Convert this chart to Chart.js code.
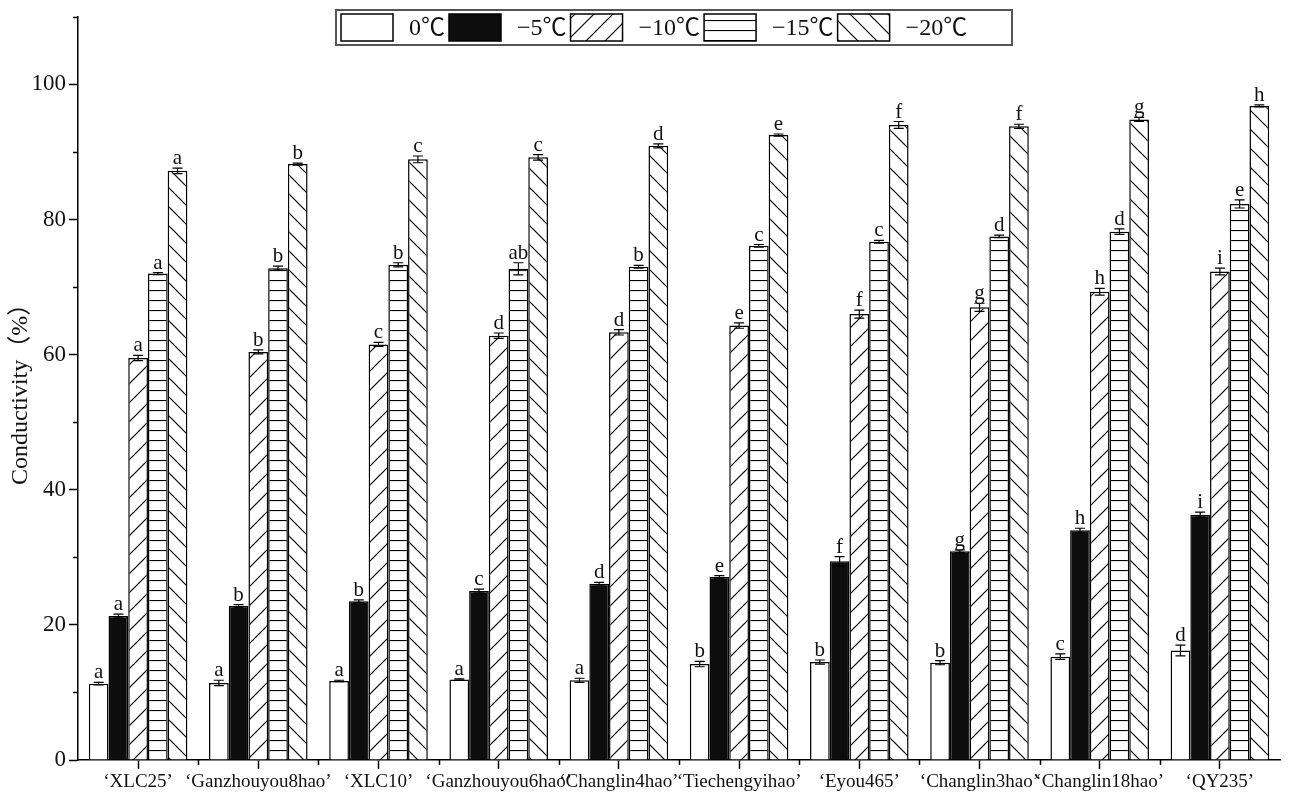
<!DOCTYPE html>
<html>
<head>
<meta charset="utf-8">
<script src="https://cdn.jsdelivr.net/npm/chart.js@4/dist/chart.umd.min.js"></script>
<style>
  body { margin: 0; background: #fff; }
  #wrap { width: 1290px; height: 798px; }
</style>
</head>
<body>
<div id="wrap"><canvas id="chart" width="1290" height="798"></canvas></div>
<script>
// cultivars on the x axis
const cultivars = ['\u2018XLC25\u2019', '\u2018Ganzhouyou8hao\u2019', '\u2018XLC10\u2019', '\u2018Ganzhouyou6hao\u2019',
  '\u2018Changlin4hao\u2019', '\u2018Tiechengyihao\u2019', '\u2018Eyou465\u2019', '\u2018Changlin3hao\u2019',
  '\u2018Changlin18hao\u2019', '\u2018QY235\u2019'];
const temps = ['0\u2103', '\u22125\u2103', '\u221210\u2103', '\u221215\u2103', '\u221220\u2103'];

// conductivity (%) per temperature
const t0   = [11.3, 11.4, 11.7, 11.9, 11.8, 14.2, 14.5, 14.4, 15.3, 16.2];
const t5   = [21.3, 22.8, 23.5, 25.0, 26.1, 27.1, 29.4, 30.9, 34.0, 36.3];
const t10  = [59.5, 60.4, 61.5, 62.8, 63.3, 64.3, 66.0, 67.0, 69.3, 72.3];
const t15  = [72.0, 72.8, 73.3, 72.7, 73.0, 76.1, 76.7, 77.5, 78.2, 82.3];
const t20  = [87.2, 88.2, 88.9, 89.2, 90.9, 92.5, 94.0, 93.8, 94.8, 96.8];

// error (half length)
const e0   = [0.2, 0.4, 0.1, 0.1, 0.3, 0.4, 0.3, 0.3, 0.4, 0.8];
const e5   = [0.3, 0.2, 0.2, 0.3, 0.2, 0.2, 0.7, 0.2, 0.3, 0.4];
const e10  = [0.4, 0.3, 0.3, 0.4, 0.4, 0.4, 0.6, 0.6, 0.5, 0.5];
const e15  = [0.15, 0.3, 0.3, 0.9, 0.2, 0.2, 0.2, 0.2, 0.4, 0.6];
const e20  = [0.4, 0.15, 0.5, 0.4, 0.3, 0.15, 0.5, 0.3, 0.3, 0.15];

// significance letters
const l0   = ['a', 'a', 'a', 'a', 'a', 'b', 'b', 'b', 'c', 'd'];
const l5   = ['a', 'b', 'b', 'c', 'd', 'e', 'f', 'g', 'h', 'i'];
const l10  = ['a', 'b', 'c', 'd', 'd', 'e', 'f', 'g', 'h', 'i'];
const l15  = ['a', 'b', 'b', 'ab', 'b', 'c', 'c', 'd', 'd', 'e'];
const l20  = ['a', 'b', 'c', 'c', 'd', 'e', 'f', 'f', 'g', 'h'];

const yTicks = [0, 20, 40, 60, 80, 100];
const yMinor = [10, 30, 50, 70, 90, 110];

const SERIF = '"Liberation Serif", "Times New Roman", "Noto Sans CJK SC", serif';

// hatch patterns
function makePattern(kind) {
  const c = document.createElement('canvas');
  const ctx = c.getContext('2d');
  if (kind === 'h') {
    c.width = 10; c.height = 10;
    ctx.fillStyle = '#fff'; ctx.fillRect(0, 0, 10, 10);
    ctx.strokeStyle = '#000'; ctx.lineWidth = 1.2;
    ctx.beginPath(); ctx.moveTo(0, 0.5); ctx.lineTo(10, 0.5); ctx.stroke();
  } else {
    const s = 19;
    c.width = s; c.height = s;
    ctx.fillStyle = '#fff'; ctx.fillRect(0, 0, s, s);
    ctx.strokeStyle = '#000'; ctx.lineWidth = 1.2;
    ctx.beginPath();
    if (kind === 'f') {
      ctx.moveTo(-2, s + 2); ctx.lineTo(s + 2, -2);
      ctx.moveTo(-2, 2); ctx.lineTo(2, -2);
      ctx.moveTo(s - 2, s + 2); ctx.lineTo(s + 2, s - 2);
    } else {
      ctx.moveTo(-2, -2); ctx.lineTo(s + 2, s + 2);
      ctx.moveTo(s - 2, -2); ctx.lineTo(s + 2, 2);
      ctx.moveTo(-2, s - 2); ctx.lineTo(2, s + 2);
    }
    ctx.stroke();
  }
  return document.getElementById('chart').getContext('2d').createPattern(c, 'repeat');
}

const fills = ['#ffffff', '#0d0d0d', makePattern('f'), makePattern('h'), makePattern('b')];
const series = [t0, t5, t10, t15, t20];
const errors = [e0, e5, e10, e15, e20];
const letters = [l0, l5, l10, l15, l20];

// error bars + letters
const barExtras = {
  id: 'barExtras',
  afterDatasetsDraw(chart) {
    const ctx = chart.ctx;
    const y = chart.scales.y;
    ctx.save();
    ctx.strokeStyle = '#000';
    ctx.lineWidth = 1.2;
    ctx.fillStyle = '#111';
    ctx.font = '21px ' + SERIF;
    ctx.textAlign = 'center';
    ctx.textBaseline = 'bottom';
    series.forEach((vals, i) => {
      const meta = chart.getDatasetMeta(i);
      meta.data.forEach((bar, j) => {
        const v = vals[j], e = errors[i][j];
        const top = y.getPixelForValue(v + e);
        const bot = y.getPixelForValue(v - e);
        ctx.beginPath();
        ctx.moveTo(bar.x, bot); ctx.lineTo(bar.x, top);
        ctx.moveTo(bar.x - 5, top); ctx.lineTo(bar.x + 5, top);
        ctx.moveTo(bar.x - 5, bot); ctx.lineTo(bar.x + 5, bot);
        ctx.stroke();
        ctx.fillText(letters[i][j], bar.x, top + 1);
      });
    });
    ctx.restore();
  }
};

// minor ticks on both axes
const minorTicks = {
  id: 'minorTicks',
  afterDraw(chart) {
    const ctx = chart.ctx;
    const x = chart.scales.x, y = chart.scales.y;
    const area = chart.chartArea;
    ctx.save();
    ctx.strokeStyle = '#000';
    ctx.lineWidth = 1.5;
    ctx.beginPath();
    yMinor.forEach(v => {
      const py = Math.round(y.getPixelForValue(v)) + 0.5;
      ctx.moveTo(area.left - 5, py); ctx.lineTo(area.left, py);
    });
    for (let i = 0; i < cultivars.length - 1; i++) {
      const px = Math.round((x.getPixelForValue(i) + x.getPixelForValue(i + 1)) / 2) + 0.5;
      ctx.moveTo(px, area.bottom); ctx.lineTo(px, area.bottom + 5);
    }
    ctx.stroke();
    ctx.restore();
  }
};

// framed legend inside the plot
const boxLegend = {
  id: 'boxLegend',
  afterDraw(chart) {
    const ctx = chart.ctx;
    const left = 336, top = 10, right = 1012, bottom = 45;
    ctx.save();
    ctx.fillStyle = '#fff';
    ctx.fillRect(left, top, right - left, bottom - top);
    ctx.strokeStyle = '#555';
    ctx.lineWidth = 2;
    ctx.strokeRect(left, top, right - left, bottom - top);
    ctx.font = '24px ' + SERIF;
    ctx.textBaseline = 'middle';
    let px = 341;
    temps.forEach((t, i) => {
      ctx.fillStyle = fills[i];
      ctx.fillRect(px, 14, 52, 27);
      ctx.strokeStyle = '#000';
      ctx.lineWidth = 1.5;
      ctx.strokeRect(px, 14, 52, 27);
      px += 52 + 16;
      ctx.fillStyle = '#111';
      ctx.fillText(t, px, 29);
      px += ctx.measureText(t).width + 4;
    });
    ctx.restore();
  }
};

new Chart(document.getElementById('chart'), {
  type: 'bar',
  data: {
    labels: cultivars,
    datasets: series.map((vals, i) => ({
      label: temps[i],
      data: vals,
      backgroundColor: fills[i],
      borderColor: '#000',
      borderWidth: 1.5,
      barPercentage: 1.0,
      categoryPercentage: 0.82
    }))
  },
  options: {
    responsive: false,
    devicePixelRatio: 1,
    animation: false,
    layout: { padding: { top: 0, right: 10, left: 0, bottom: 0 } },
    plugins: {
      legend: { display: false },
      tooltip: { enabled: false }
    },
    scales: {
      x: {
        grid: { display: true, drawOnChartArea: false, offset: false, tickLength: 9, tickColor: '#000', tickWidth: 1.5 },
        border: { color: '#000', width: 1.5 },
        ticks: { color: '#111', font: { family: SERIF, size: 19 }, autoSkip: false, maxRotation: 0, padding: 2 },
        afterFit(scale) { scale.height = 38; }
      },
      y: {
        min: 0,
        max: 110,
        afterBuildTicks(scale) { scale.ticks = yTicks.map(v => ({ value: v })); },
        grid: { display: true, drawOnChartArea: false, tickLength: 9, tickColor: '#000', tickWidth: 1.5 },
        border: { color: '#000', width: 1.5 },
        ticks: { color: '#111', font: { family: SERIF, size: 23 }, padding: 3 },
        title: {
          display: true,
          text: 'Conductivity\uff08%\uff09',
          color: '#111',
          font: { family: SERIF, size: 24 },
          padding: { top: 6, bottom: 0 }
        },
        afterFit(scale) { scale.width = 78; }
      }
    }
  },
  plugins: [barExtras, minorTicks, boxLegend, {
    id: 'topPad',
    beforeLayout(chart) { chart.options.layout.padding.top = 8; }
  }]
});
</script>
</body>
</html>
